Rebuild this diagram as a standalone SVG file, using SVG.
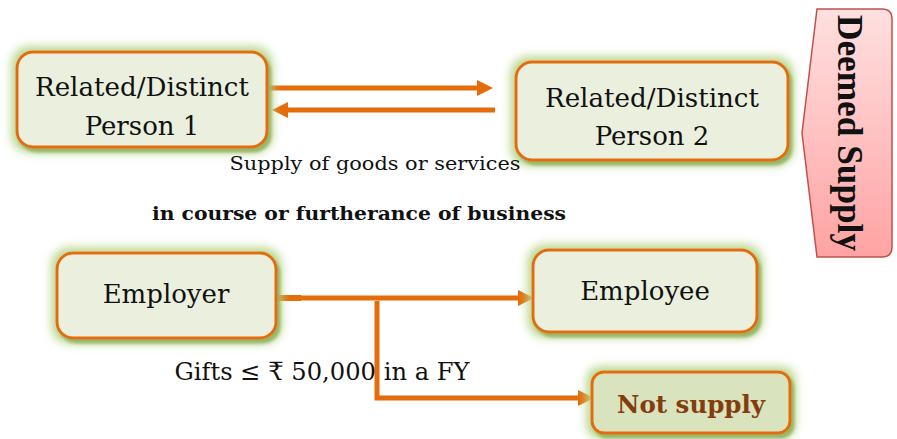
<svg xmlns="http://www.w3.org/2000/svg" width="897" height="439" viewBox="0 0 897 439">
<defs>
<filter id="glow" x="-20%" y="-40%" width="140%" height="180%">
<feMorphology operator="dilate" radius="4" in="SourceAlpha" result="d"/>
<feGaussianBlur in="d" stdDeviation="5" result="b"/>
<feFlood flood-color="#B9D68C"/>
<feComposite in2="b" operator="in" result="g"/>
<feOffset in="SourceAlpha" dx="3" dy="4" result="o"/>
<feGaussianBlur in="o" stdDeviation="1.5" result="ob"/>
<feFlood flood-color="#8DAE5C" flood-opacity="0.85"/>
<feComposite in2="ob" operator="in" result="s"/>
<feMerge><feMergeNode in="g"/><feMergeNode in="s"/><feMergeNode in="SourceGraphic"/></feMerge>
</filter>
<linearGradient id="pink" x1="0" y1="0" x2="0" y2="1">
<stop offset="0" stop-color="#FFE0E0"/>
<stop offset="1" stop-color="#FFA3A3"/>
</linearGradient>
<marker id="ah" markerUnits="userSpaceOnUse" markerWidth="16" markerHeight="18" refX="0" refY="9" orient="auto" overflow="visible">
<path d="M0,1 L16,9 L0,17 Z" fill="#E46C0A"/>
</marker>
<style>
.box{fill:#EBF0DE;stroke:#E46C0A;stroke-width:3;filter:url(#glow)}
.t{font-family:"DejaVu Serif","Liberation Serif","Noto Sans",serif;fill:#111;text-anchor:middle}
.c{stroke:#E46C0A;stroke-width:5;fill:none}
</style>
</defs>

<g id="connectors">
<line class="c" x1="268" y1="88" x2="477" y2="88" marker-end="url(#ah)"/>
<line class="c" x1="495" y1="110" x2="288" y2="110" marker-end="url(#ah)"/>
<rect x="278" y="295" width="23" height="6" fill="#E46C0A"/>
<line class="c" x1="300" y1="298" x2="518" y2="298" stroke-width="4" marker-end="url(#ah)"/>
<polyline class="c" points="377,301 377,398 578,398" marker-end="url(#ah)"/>
</g>

<g id="node-person1">
<rect class="box" x="17" y="52" width="250" height="95" rx="16"/>
<text class="t" x="142" y="96" font-size="26" textLength="214" lengthAdjust="spacingAndGlyphs">Related/Distinct</text>
<text class="t" x="142" y="135" font-size="26">Person 1</text>
</g>

<g id="node-person2">
<rect class="box" x="516" y="62" width="272" height="98" rx="16"/>
<text class="t" x="652" y="107" font-size="26" textLength="214" lengthAdjust="spacingAndGlyphs">Related/Distinct</text>
<text class="t" x="652" y="145" font-size="26">Person 2</text>
</g>

<g id="node-deemed">
<path d="M817,9 L882,9 Q892,9 892,19 L892,247 Q892,257 882,257 L817,257 L802,133 Z" fill="url(#pink)" stroke="#C0504D" stroke-width="1.5"/>
<text transform="translate(838,133) rotate(90)" font-family="'Liberation Serif','DejaVu Serif',serif" font-weight="bold" font-size="35" text-anchor="middle" fill="#111" textLength="236" lengthAdjust="spacingAndGlyphs">Deemed Supply</text>
</g>

<g id="label-supply">
<text class="t" x="375" y="170" font-size="19" textLength="291" lengthAdjust="spacingAndGlyphs">Supply of goods or services</text>
</g>
<g id="label-business">
<text class="t" x="359" y="220" font-size="19" font-weight="bold" textLength="414" lengthAdjust="spacingAndGlyphs">in course or furtherance of business</text>
</g>

<g id="node-employer">
<rect class="box" x="57" y="253" width="219" height="85" rx="16"/>
<text class="t" x="166" y="303" font-size="26">Employer</text>
</g>

<g id="node-employee">
<rect class="box" x="533" y="250" width="224" height="82" rx="16"/>
<text class="t" x="645" y="300" font-size="26">Employee</text>
</g>

<g id="label-gifts">
<text class="t" x="322" y="380" font-size="25" textLength="295" lengthAdjust="spacingAndGlyphs">Gifts ≤ ₹ 50,000 in a FY</text>
</g>

<g id="node-notsupply">
<rect class="box" x="592" y="372" width="198" height="61" rx="12" style="fill:#D9E4BE"/>
<text class="t" x="691" y="413" font-size="25" font-weight="bold" style="fill:#843C0C" textLength="148" lengthAdjust="spacingAndGlyphs">Not supply</text>
</g>
</svg>
